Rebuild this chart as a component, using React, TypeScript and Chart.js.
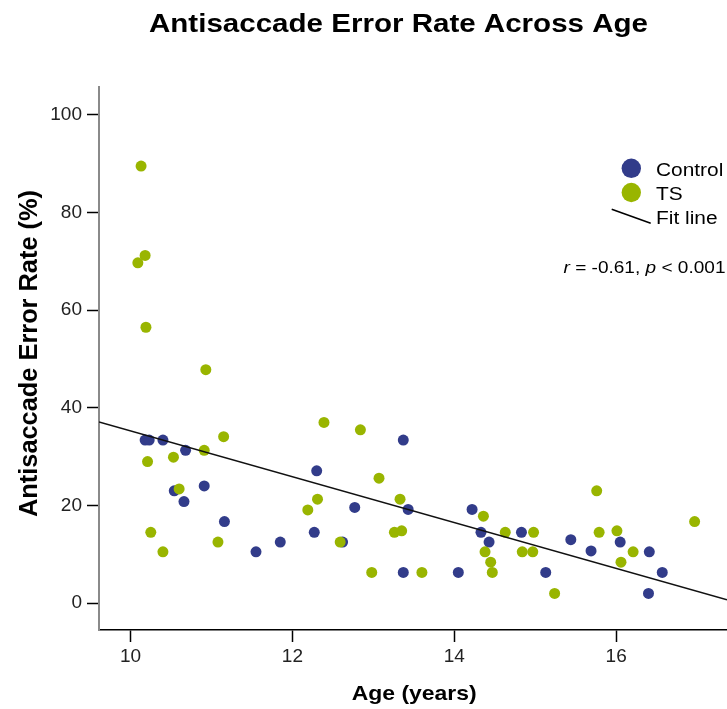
import React, { useEffect, useRef } from "react";
import { Chart, registerables } from "chart.js";

Chart.register(...registerables);

// ---- Data ----
const controlAge = [10.18, 10.23, 10.4, 10.68, 10.54, 10.91, 10.66, 11.16, 11.55, 11.85, 13.37, 12.3, 13.43, 12.77, 12.27, 12.62, 13.37, 14.05, 14.22, 14.33, 14.43, 14.83, 15.13, 15.44, 15.69, 16.05, 16.41, 16.4, 16.57];
const controlRate = [33.4, 33.4, 33.4, 31.3, 23.0, 24.0, 20.8, 16.7, 10.5, 12.5, 33.4, 27.1, 19.2, 19.6, 14.5, 12.5, 6.3, 6.3, 19.2, 14.5, 12.5, 14.5, 6.3, 13.0, 10.7, 12.5, 10.5, 2.0, 6.3];

const tsAge = [10.13, 10.18, 10.09, 10.19, 10.93, 11.15, 10.91, 10.21, 10.53, 10.6, 10.25, 10.4, 11.08, 12.39, 12.84, 13.07, 12.31, 13.33, 12.19, 13.26, 13.35, 12.59, 12.98, 13.6, 14.36, 14.38, 14.45, 14.47, 14.63, 14.98, 14.84, 14.97, 15.24, 15.76, 15.79, 16.01, 16.06, 16.21, 16.97];
const tsRate = [89.5, 71.2, 69.7, 56.5, 47.8, 34.1, 31.3, 29.0, 29.9, 23.4, 14.5, 10.5, 12.5, 37.0, 35.5, 25.6, 21.3, 21.3, 19.1, 14.5, 14.8, 12.5, 6.3, 6.3, 17.8, 10.5, 8.4, 6.3, 14.5, 14.5, 10.5, 10.5, 2.0, 23.0, 14.5, 14.8, 8.4, 10.5, 16.7];

const fitAge = [9.61, 17.37];
const fitRate = [37.1, 0.7];

const xTicks = [10, 12, 14, 16];
const yTicks = [0, 20, 40, 60, 80, 100];

const seriesNames = ["Control", "TS", "Fit line"];
const titleText = "Antisaccade Error Rate Across Age";
const xTitle = "Age (years)";
const yTitle = "Antisaccade Error Rate (%)";

const BLUE = "#323C8A";
const GREEN = "#99B500";
const FONT = "'Liberation Sans', Arial, sans-serif";

type Part = { t: string; font: string };

function drawParts(
  ctx: CanvasRenderingContext2D,
  parts: Part[],
  x: number,
  y: number,
  align: "left" | "center" | "right",
  opts: { sx?: number; width?: number; rot?: number }
) {
  ctx.save();
  let total = 0;
  for (const p of parts) {
    ctx.font = p.font;
    total += ctx.measureText(p.t).width;
  }
  const sx = opts.width ? opts.width / total : opts.sx || 1;
  ctx.translate(x, y);
  if (opts.rot) ctx.rotate(opts.rot);
  ctx.scale(sx, 1);
  let cx = align === "left" ? 0 : align === "center" ? -total / 2 : -total;
  ctx.textBaseline = "alphabetic";
  ctx.textAlign = "left";
  ctx.fillStyle = "#000";
  for (const p of parts) {
    ctx.font = p.font;
    ctx.fillText(p.t, cx, 0);
    cx += ctx.measureText(p.t).width;
  }
  ctx.restore();
}

const textPlugin = {
  id: "customText",
  afterDraw(chart: any) {
    const ctx: CanvasRenderingContext2D = chart.ctx;
    const bold25 = `bold 25px ${FONT}`;
    // Title
    drawParts(ctx, [{ t: titleText, font: bold25 }], 149, 32, "left", { width: 499 });
    // Y title
    drawParts(ctx, [{ t: yTitle, font: bold25 }], 36.5, 353.5, "center", { width: 327, rot: -Math.PI / 2 });
    // X title
    drawParts(ctx, [{ t: xTitle, font: `bold 21px ${FONT}` }], 414.2, 700, "center", { width: 125 });

    // Legend
    const f18 = `18px ${FONT}`;
    ctx.save();
    ctx.fillStyle = BLUE;
    ctx.beginPath();
    ctx.arc(631.3, 168.3, 9.7, 0, Math.PI * 2);
    ctx.fill();
    ctx.fillStyle = GREEN;
    ctx.beginPath();
    ctx.arc(631.3, 192.5, 9.7, 0, Math.PI * 2);
    ctx.fill();
    ctx.strokeStyle = "#000";
    ctx.lineWidth = 1.5;
    ctx.beginPath();
    ctx.moveTo(611.7, 209.3);
    ctx.lineTo(650.7, 223.3);
    ctx.stroke();
    ctx.restore();
    drawParts(ctx, [{ t: seriesNames[0], font: f18 }], 656, 176, "left", { sx: 1.16 });
    drawParts(ctx, [{ t: seriesNames[1], font: f18 }], 656, 200, "left", { sx: 1.16 });
    drawParts(ctx, [{ t: seriesNames[2], font: f18 }], 656, 223.5, "left", { sx: 1.16 });

    // Correlation annotation
    const f17 = `17px ${FONT}`;
    const i17 = `italic 17px ${FONT}`;
    drawParts(
      ctx,
      [
        { t: "r", font: i17 },
        { t: " = -0.61, ", font: f17 },
        { t: "p", font: i17 },
        { t: " < 0.001", font: f17 },
      ],
      563.5,
      273,
      "left",
      { width: 162 }
    );
  },
};

export default function App() {
  const ref = useRef<HTMLCanvasElement | null>(null);

  useEffect(() => {
    if (!ref.current) return;
    const chart = new Chart(ref.current, {
      type: "scatter",
      data: {
        datasets: [
          {
            type: "line",
            label: seriesNames[2],
            data: fitAge.map((x, i) => ({ x, y: fitRate[i] })),
            borderColor: "#111",
            borderWidth: 1.5,
            pointRadius: 0,
            fill: false,
            showLine: true,
          } as any,
          {
            label: seriesNames[1],
            data: tsAge.map((x, i) => ({ x, y: tsRate[i] })),
            backgroundColor: GREEN,
            borderWidth: 0,
            pointRadius: 5.5,
          },
          {
            label: seriesNames[0],
            data: controlAge.map((x, i) => ({ x, y: controlRate[i] })),
            backgroundColor: BLUE,
            borderWidth: 0,
            pointRadius: 5.5,
          },
        ],
      },
      options: {
        animation: false,
        responsive: true,
        maintainAspectRatio: false,
        layout: { autoPadding: false, padding: { top: 87, left: 0, right: 0, bottom: 0 } },
        plugins: {
          legend: { display: false },
          title: { display: false },
          tooltip: { enabled: false },
        },
        scales: {
          x: {
            type: "linear",
            min: 9.61,
            max: 17.37,
            afterFit: (s: any) => {
              s.height = 79;
              s.paddingLeft = 0;
              s.paddingRight = 0;
            },
            afterBuildTicks: (s: any) => {
              s.ticks = xTicks.map((v) => ({ value: v }));
            },
            ticks: {
              font: { family: FONT, size: 19 },
              color: "#222",
              padding: 3,
              maxRotation: 0,
            },
            grid: {
              drawOnChartArea: false,
              drawTicks: true,
              tickLength: 12,
              tickColor: "#000",
              tickWidth: 1.5,
            },
            border: { color: "#000", width: 1.5 },
          },
          y: {
            type: "linear",
            min: -5.5,
            max: 105.7,
            afterFit: (s: any) => {
              s.width = 99;
              s.paddingTop = 0;
              s.paddingBottom = 0;
            },
            afterBuildTicks: (s: any) => {
              s.ticks = yTicks.map((v) => ({ value: v }));
            },
            ticks: {
              font: { family: FONT, size: 19 },
              color: "#222",
              padding: 5,
            },
            grid: {
              drawOnChartArea: false,
              drawTicks: true,
              tickLength: 12,
              tickColor: "#000",
              tickWidth: 1.5,
            },
            border: { color: "#8a8a8a", width: 2 },
          },
        },
      },
      plugins: [textPlugin],
    });
    return () => chart.destroy();
  }, []);

  return (
    <div style={{ position: "fixed", left: 0, top: 0, width: 727, height: 709, background: "#fff" }}>
      <canvas ref={ref} />
    </div>
  );
}
